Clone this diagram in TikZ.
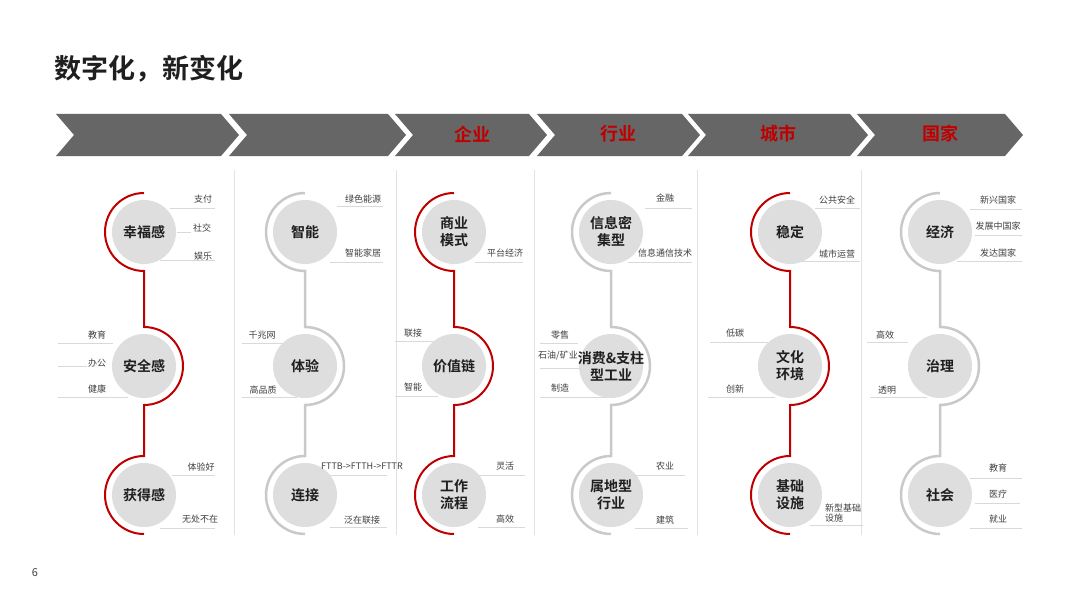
\documentclass[tikz,border=0pt]{standalone}
\usepackage{fontspec}
\setmainfont{Noto Sans CJK SC}[BoldFont={Noto Sans CJK SC Bold}]
\usetikzlibrary{calc}
\definecolor{chevgray}{HTML}{666666}
\definecolor{accent}{HTML}{C00000}
\definecolor{pathgray}{HTML}{C9C9C9}
\definecolor{hubfill}{HTML}{DEDEDE}
\definecolor{rulegray}{HTML}{D9D9D9}
\definecolor{divgray}{HTML}{E2E2E2}
\definecolor{leaftext}{HTML}{404040}
\definecolor{titletext}{HTML}{1F1F1F}
\pgfdeclarelayer{background}
\pgfsetlayers{background,main}
\newcommand\chevshape[2]{\fill[chevron] (#1,114) -- (#2,114) -- ({#2+18},135) -- (#2,156) -- (#1,156) -- ({#1+18},135) -- cycle;}
\newcommand\spinepath[4]{\draw[#1] ($(#2.center)+(0,-39)$) arc[start angle=270,end angle=90,radius=39] -- ($(#3.center)+(0,-39)$) arc[start angle=-90,end angle=90,radius=39] -- ($(#4.center)+(0,-39)$) arc[start angle=270,end angle=90,radius=39];}
\newcommand\uline[3]{\draw[underline] (#2,#1) -- (#3,#1);}
\begin{document}
\begin{tikzpicture}[x=1pt,y=-1pt,
  chevron/.style={fill=chevgray,draw=none},
  chevlabel/.style={text=accent,font=\fontsize{18}{20}\selectfont\bfseries,inner sep=0},
  hub/.style={circle,fill=hubfill,minimum size=64pt,inner sep=0,align=center,text=titletext,font=\fontsize{14}{17}\selectfont\bfseries},
  hubtext/.style={inner sep=0,align=center,text=titletext,font=\fontsize{14}{17}\selectfont\bfseries},
  redpath/.style={draw=accent,line width=2pt},
  greypath/.style={draw=pathgray,line width=2.5pt},
  leaf/.style={text=leaftext,font=\fontsize{9}{10}\selectfont,inner sep=0},
  underline/.style={draw=rulegray,line width=0.8pt},
  divider/.style={draw=divgray,line width=0.8pt}]
\useasboundingbox (0,0) rectangle (1080,610);

% title and page number
\node[anchor=west,inner sep=0,text=titletext,font=\fontsize{27}{30}\selectfont\bfseries] (title) at (54,69) {数字化，新变化};
\node[inner sep=0,text=leaftext,font=\fontsize{11}{12}\selectfont] (pageno) at (35,573) {6};

% chevrons
\chevshape{56}{221}
\chevshape{229}{388}
\chevshape{395}{529}
\chevshape{537}{682}
\chevshape{688}{850}
\chevshape{857}{1005}
\node[chevlabel] (lab3) at (472,134) {企业};
\node[chevlabel] (lab4) at (618,134) {行业};
\node[chevlabel] (lab5) at (778,134) {城市};
\node[chevlabel] (lab6) at (940,134) {国家};

% hubs
\node[hub] (h11) at (144,232) {幸福感};
\node[hub] (h12) at (144,366) {安全感};
\node[hub] (h13) at (144,495) {获得感};
\node[hub] (h21) at (305,232) {智能};
\node[hub] (h22) at (305,366) {体验};
\node[hub] (h23) at (305,495) {连接};
\node[hub] (h31) at (454,232) {商业\\模式};
\node[hub] (h32) at (454,366) {价值链};
\node[hub] (h33) at (454,495) {工作\\流程};
\node[hub] (h41) at (611,232) {信息密\\集型};
\node[hub] (h42) at (611,366) {};
\node[hubtext] (h42t) at (h42.center) {消费\&支柱\\型工业};
\node[hub] (h43) at (611,495) {属地型\\行业};
\node[hub] (h51) at (790,232) {稳定};
\node[hub] (h52) at (790,366) {文化\\环境};
\node[hub] (h53) at (790,495) {基础\\设施};
\node[hub] (h61) at (940,232) {经济};
\node[hub] (h62) at (940,366) {治理};
\node[hub] (h63) at (940,495) {社会};

% leaves
\node[leaf] (l11) at (203,199) {支付};
\node[leaf] (l12) at (202,228) {社交};
\node[leaf] (l13) at (203,256) {娱乐};
\node[leaf] (l14) at (97,335) {教育};
\node[leaf] (l15) at (97,363) {办公};
\node[leaf] (l16) at (97,389) {健康};
\node[leaf] (l17) at (201,467) {体验好};
\node[leaf] (l18) at (200,519) {无处不在};

\node[leaf] (l21) at (363,199) {绿色能源};
\node[leaf] (l22) at (363,253) {智能家居};
\node[leaf] (l23) at (262,335) {千兆网};
\node[leaf] (l24) at (263,390) {高品质};
\node[leaf] (l25) at (362,466) {FTTB->FTTH->FTTR};
\node[leaf] (l26) at (362,520) {泛在联接};

\node[leaf] (l31) at (505,253) {平台经济};
\node[leaf] (l32) at (413,333) {联接};
\node[leaf] (l33) at (413,387) {智能};
\node[leaf] (l34) at (505,466) {灵活};
\node[leaf] (l35) at (505,519) {高效};

\node[leaf] (l41) at (665,198) {金融};
\node[leaf] (l42) at (665,253) {信息通信技术};
\node[leaf] (l43) at (560,335) {零售};
\node[leaf] (l44) at (558,356) {石油/矿业};
\node[leaf] (l45) at (560,388) {制造};
\node[leaf] (l46) at (665,466) {农业};
\node[leaf] (l47) at (665,520) {建筑};

\node[leaf] (l51) at (837,200) {公共安全};
\node[leaf] (l52) at (837,254) {城市运营};
\node[leaf] (l53) at (735,333) {低碳};
\node[leaf] (l54) at (735,389) {创新};
\node[leaf,anchor=west,align=left] (l55) at (825,513) {新型基础\\设施};

\node[leaf] (l61) at (998,200) {新兴国家};
\node[leaf] (l62) at (998,226) {发展中国家};
\node[leaf] (l63) at (998,253) {发达国家};
\node[leaf] (l64) at (885,335) {高效};
\node[leaf] (l65) at (887,390) {透明};
\node[leaf] (l66) at (998,468) {教育};
\node[leaf] (l67) at (998,494) {医疗};
\node[leaf] (l68) at (998,519) {就业};

\begin{pgfonlayer}{background}
\fill[white] (0,0) rectangle (1080,610);
% column dividers
\foreach \dx in {234.5,396.5,534.5,697,861}
  \draw[divider] (\dx,170) -- (\dx,535);
% underline rules
\uline{208}{170}{215} \uline{232}{177}{191} \uline{260}{160}{215}
\uline{343}{58}{113} \uline{366}{58}{87} \uline{397}{58}{128}
\uline{475}{172}{215} \uline{528}{160}{215}
\uline{206}{337}{383} \uline{262}{330}{383}
\uline{343}{242}{288} \uline{397}{242}{297}
\uline{475}{330}{387} \uline{527}{330}{387}
\uline{262}{475}{523}
\uline{341}{395}{435} \uline{396}{395}{438}
\uline{475}{478}{525} \uline{527}{478}{525}
\uline{208}{645}{692} \uline{262}{628}{692}
\uline{343}{540}{578} \uline{368}{540}{588} \uline{397}{540}{613}
\uline{475}{635}{685} \uline{528}{635}{688}
\uline{208}{815}{860} \uline{261}{800}{860}
\uline{342}{710}{768} \uline{397}{708}{775}
\uline{525}{810}{863}
\uline{209}{970}{1022} \uline{235}{975}{1022} \uline{261}{957}{1022}
\uline{342}{867}{908} \uline{397}{870}{927}
\uline{478}{970}{1022} \uline{503}{975}{1020} \uline{528}{970}{1022}
% spines
\spinepath{redpath}{h11}{h12}{h13}
\spinepath{greypath}{h21}{h22}{h23}
\spinepath{redpath}{h31}{h32}{h33}
\spinepath{greypath}{h41}{h42}{h43}
\spinepath{redpath}{h51}{h52}{h53}
\spinepath{greypath}{h61}{h62}{h63}
\end{pgfonlayer}
\end{tikzpicture}
\end{document}
